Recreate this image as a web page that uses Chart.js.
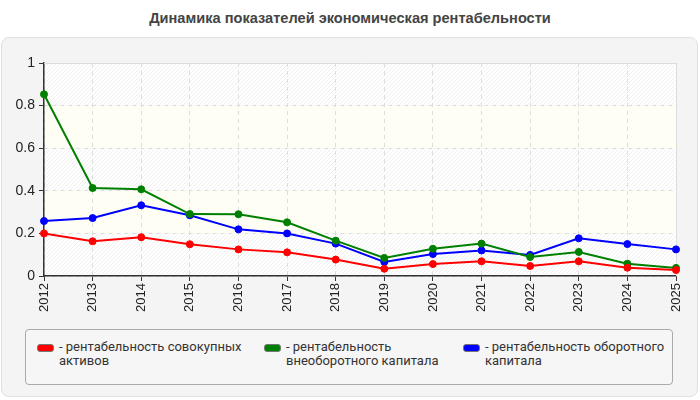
<!DOCTYPE html>
<html>
<head>
<meta charset="utf-8">
<script src="https://cdn.jsdelivr.net/npm/chart.js@4.4.0/dist/chart.umd.min.js"></script>
<style>
    body { margin: 0; background: #fff; font-family: "Liberation Sans", Arial, sans-serif; }
    #title { position: absolute; left: 0; width: 700px; top: 10px; text-align: center; font-size: 14.6px; font-weight: bold; color: #444; }
    #panel { position: absolute; left: 1px; top: 37px; width: 695px; height: 358px; background: #f4f4f4; border: 1px solid #e0e0e0; border-radius: 8px; }
    #wrap { position: absolute; left: 0; top: 0; width: 697px; height: 290px; }
    #legend { position: absolute; left: 23px; top: 291px; width: 646px; height: 54px; border: 1px solid #aaa; border-radius: 4px; background: #f6f6f6; }
    .item { position: absolute; top: 10px; font-family: Roboto, sans-serif; font-size: 13px; color: #333; line-height: 14px; }
    .sw { position: absolute; left: 0; top: 4px; width: 15px; height: 6px; border-radius: 3px; border: 1px solid #777; }
    .txt { position: absolute; left: 22px; top: 0; width: 190px; }
</style>
</head>
<body>
<div id="title">Динамика показателей экономическая рентабельности</div>
<div id="panel">
    <div id="wrap"><canvas id="grafico"></canvas></div>
    <div id="legend"></div>
</div>
<script>
const anos = ['2012', '2013', '2014', '2015', '2016', '2017', '2018', '2019', '2020', '2021', '2022', '2023', '2024', '2025'];

const sovokupnye = [0.2, 0.163, 0.182, 0.149, 0.125, 0.111, 0.077, 0.034, 0.056, 0.069, 0.047, 0.069, 0.039, 0.028];
const vneoborotnye = [0.853, 0.413, 0.407, 0.291, 0.29, 0.252, 0.166, 0.085, 0.128, 0.152, 0.089, 0.113, 0.058, 0.038];
const oborotnye = [0.258, 0.272, 0.332, 0.285, 0.219, 0.2, 0.152, 0.066, 0.103, 0.12, 0.099, 0.177, 0.15, 0.125];

const legendas = ['рентабельность совокупных активов', 'рентабельность внеоборотного капитала', 'рентабельность оборотного капитала'];
const cores = ['#ff0000', '#008000', '#0000ff'];

// fundo listrado do grafico
function hachura() {
    let c = document.createElement('canvas');
    c.width = 4; c.height = 4;
    let g = c.getContext('2d');
    g.fillStyle = '#ffffff';
    g.fillRect(0, 0, 4, 4);
    g.strokeStyle = '#f0f0f0';
    g.lineWidth = 1;
    g.beginPath();
    g.moveTo(0, 4); g.lineTo(4, 0);
    g.moveTo(-1, 1); g.lineTo(1, -1);
    g.moveTo(3, 5); g.lineTo(5, 3);
    g.stroke();
    return g.createPattern(c, 'repeat');
}

const fundo = {
    id: 'fundo',
    beforeDraw(chart) {
        const { ctx, chartArea: a, scales: { y } } = chart;
        ctx.save();
        ctx.fillStyle = hachura();
        ctx.fillRect(a.left, a.top, a.right - a.left, a.bottom - a.top);
        ctx.fillStyle = '#fefef5';
        for (let v of [0.2, 0.6]) {
            let t = y.getPixelForValue(v + 0.2), b = y.getPixelForValue(v);
            ctx.fillRect(a.left, t, a.right - a.left, b - t);
        }
        ctx.restore();
    },
    beforeDatasetsDraw(chart) {
        const { ctx, chartArea: a } = chart;
        ctx.save();
        ctx.strokeStyle = '#dcdcdc';
        ctx.lineWidth = 1;
        ctx.beginPath();
        ctx.moveTo(a.left, a.top + 0.5);
        ctx.lineTo(a.right + 0.5, a.top + 0.5);
        ctx.lineTo(a.right + 0.5, a.bottom);
        ctx.stroke();
        ctx.restore();
    }
};

const series = [sovokupnye, vneoborotnye, oborotnye];
const datasets = series.map((s, i) => ({
    label: legendas[i],
    data: s,
    borderColor: cores[i],
    backgroundColor: cores[i],
    borderWidth: 2,
    pointRadius: 3.5,
    pointBorderWidth: 1,
    pointHoverRadius: 3.5,
    tension: 0
}));

new Chart('grafico', {
    type: 'line',
    data: { labels: anos, datasets: datasets },
    plugins: [fundo],
    options: {
        responsive: true,
        maintainAspectRatio: false,
        animation: false,
        layout: { padding: { left: 0, top: 25, right: 23, bottom: 0 } },
        plugins: { legend: { display: false }, tooltip: { enabled: false } },
        scales: {
            x: {
                offset: false,
                afterFit: s => { s.height = 52; },
                grid: { color: '#dddddd', tickColor: '#333', tickLength: 5, tickBorderDash: [] },
                border: { color: '#333', width: 1.5, dash: [4, 4] },
                ticks: { minRotation: 90, maxRotation: 90, color: '#222', font: { size: 13, family: 'Liberation Sans' }, padding: 2 }
            },
            y: {
                min: 0, max: 1,
                afterFit: s => { s.width = 42; },
                grid: { color: ctx => ctx.tick.value === 1 ? 'rgba(0,0,0,0)' : '#dddddd', tickColor: '#333', tickLength: 5, tickBorderDash: [] },
                border: { color: '#333', width: 1.5, dash: [4, 4] },
                ticks: { stepSize: 0.2, color: '#222', font: { size: 14, family: 'Liberation Sans' }, padding: 4, callback: v => String(Math.round(v * 10) / 10) }
            }
        }
    }
});

let leg = document.querySelector('#legend');
const posicoes = [11, 238, 437];
legendas.forEach((txt, i) => {
    let item = document.createElement('div');
    item.className = 'item';
    item.style.left = posicoes[i] + 'px';
    item.innerHTML = `<div class="sw" style="background:${cores[i]}"></div><div class="txt">- ${txt}</div>`;
    leg.appendChild(item);
});
</script>
</body>
</html>
